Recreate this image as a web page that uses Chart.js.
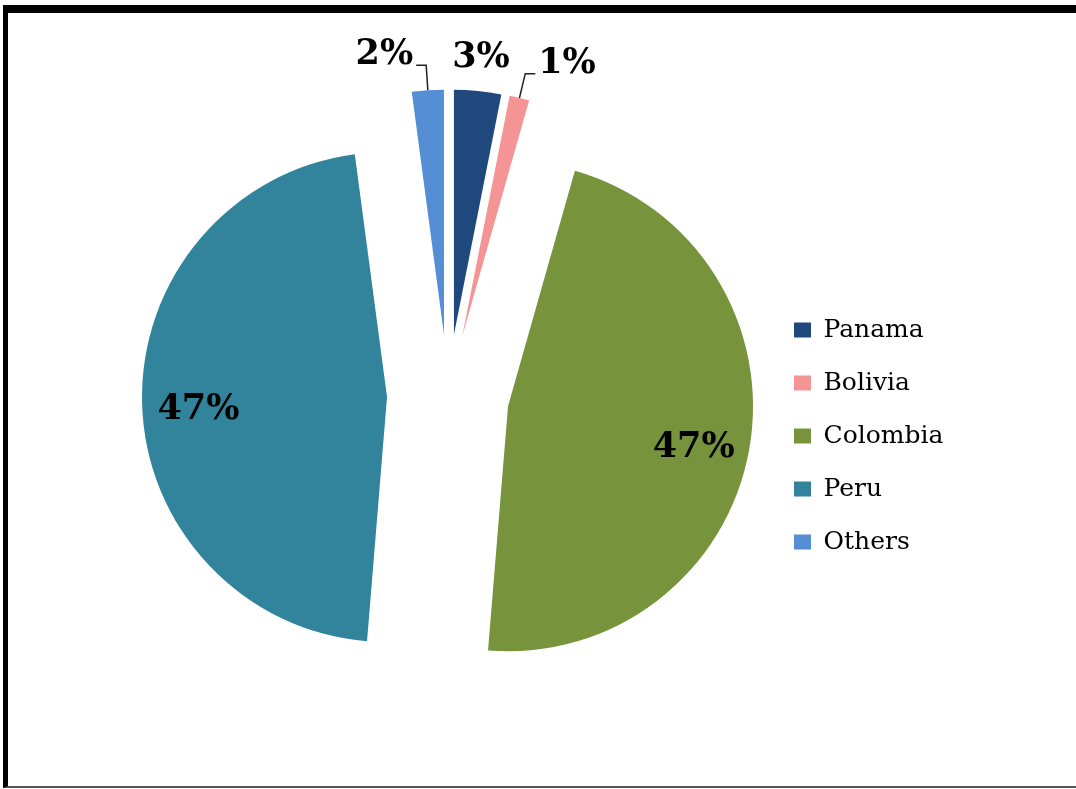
<!DOCTYPE html>
<html>
<head>
<meta charset="utf-8">
<title>Pie chart</title>
<script src="https://cdn.jsdelivr.net/npm/chart.js@4.4.1/dist/chart.umd.min.js"></script>
<style>
    html, body { margin: 0; padding: 0; background: #fff; }
    body { width: 1076px; height: 789px; position: relative; overflow: hidden; }
    #frame {
        position: absolute; left: 3px; top: 5px; width: 1100px; height: 773px;
        border-left: 5px solid #000; border-top: 8px solid #000; border-bottom: 2px solid #555;
    }
    #chart { position: absolute; left: 0; top: 0; }
</style>
</head>
<body>
<div id="frame"></div>
<canvas id="chart" width="1076" height="789"></canvas>
<script>
const countries = ['Panama', 'Bolivia', 'Colombia', 'Peru', 'Others'];
const shares = [3.1, 1.3, 46.9, 46.6, 2.1];
const sliceColors = ['#1f497d', '#f59494', '#77933c', '#31849b', '#558ed5'];

const SLICE_SHIFT = 61;   // how far every slice is pulled out
const legendFont = {family: '"DejaVu Serif", serif', size: 25};

// every slice is moved out along its middle angle
class ExplodedArc extends Chart.ArcElement {
    draw(ctx) {
        const mid = (this.startAngle + this.endAngle) / 2;
        ctx.save();
        ctx.translate(Math.cos(mid) * SLICE_SHIFT, Math.sin(mid) * SLICE_SHIFT);
        super.draw(ctx);
        ctx.restore();
    }
}
ExplodedArc.id = 'explodedArc';

class ExplodedPie extends Chart.PieController {}
ExplodedPie.id = 'explodedPie';
ExplodedPie.defaults = {dataElementType: 'explodedArc'};

Chart.register(ExplodedArc, ExplodedPie);

// percentage labels, small slices get a leader line
const sliceLabels = {
    id: 'sliceLabels',
    afterDatasetsDraw(chart) {
        const ctx = chart.ctx;
        const values = chart.data.datasets[0].data;
        const total = values.reduce((a, b) => a + b, 0);

        const geo = chart.getDatasetMeta(0).data.map((arc, i) => {
            const p = arc.getProps(['x', 'y', 'startAngle', 'endAngle', 'outerRadius'], true);
            const mid = (p.startAngle + p.endAngle) / 2;
            const dx = Math.cos(mid), dy = Math.sin(mid);
            const cx = p.x + dx * SLICE_SHIFT, cy = p.y + dy * SLICE_SHIFT;
            return {
                i, dx, dy, cx, cy, r: p.outerRadius,
                ex: cx + dx * p.outerRadius, ey: cy + dy * p.outerRadius,
                share: values[i] / total,
                text: Math.round(values[i] / total * 100) + '%'
            };
        });

        const small = geo.filter(g => g.share < 0.1);
        const main = small.reduce((m, g) => (g.share > m.share ? g : m), small[0]);

        ctx.save();
        ctx.font = 'bold 35px "DejaVu Serif", serif';
        ctx.fillStyle = '#000';
        ctx.strokeStyle = '#222';
        ctx.lineWidth = 1.5;
        ctx.textBaseline = 'middle';

        geo.forEach(g => {
            if (g.share >= 0.1) {
                ctx.textAlign = 'center';
                ctx.fillText(g.text, g.cx + g.dx * g.r * 0.77, g.cy + g.dy * g.r * 0.77 + 8);
                return;
            }
            if (g === main) {
                ctx.textAlign = 'center';
                ctx.fillText(g.text, g.ex + g.dx * 33, g.ey + g.dy * 33);
                return;
            }
            const side = g.ex < main.ex ? -1 : 1;
            const kx = g.ex + g.dx * 25, ky = g.ey + g.dy * 25;
            const hx = kx + side * 10;
            ctx.beginPath();
            ctx.moveTo(g.ex, g.ey);
            ctx.lineTo(kx, ky);
            ctx.lineTo(hx, ky);
            ctx.stroke();
            ctx.textAlign = side < 0 ? 'right' : 'left';
            ctx.fillText(g.text, hx + side * 3, ky - 10);
        });
        ctx.restore();
    }
};

// legend width, so the pie stays where it should
const m = document.createElement('canvas').getContext('2d');
m.font = legendFont.size + 'px ' + legendFont.family;
const textW = Math.max(...countries.map(t => m.measureText(t).width));
const legendRight = 766 + 28 + 17 + legendFont.size / 2 + textW + 10;

new Chart(document.getElementById('chart'), {
    type: 'explodedPie',
    data: {
        labels: countries,
        datasets: [{
            data: shares,
            backgroundColor: sliceColors,
            borderWidth: 0,
            hoverOffset: 0,
            clip: false
        }]
    },
    options: {
        responsive: false,
        animation: false,
        layout: {
            padding: {left: 130, top: 150.5, bottom: 148.5, right: 1076 - legendRight}
        },
        plugins: {
            tooltip: {enabled: false},
            legend: {
                position: 'right',
                title: {display: true, text: '', font: {size: 10}, padding: {top: 69, bottom: 0}},
                labels: {
                    boxWidth: 17,
                    boxHeight: 15,
                    padding: 28,
                    color: '#000',
                    font: legendFont
                }
            }
        }
    },
    plugins: [sliceLabels]
});
</script>
</body>
</html>
